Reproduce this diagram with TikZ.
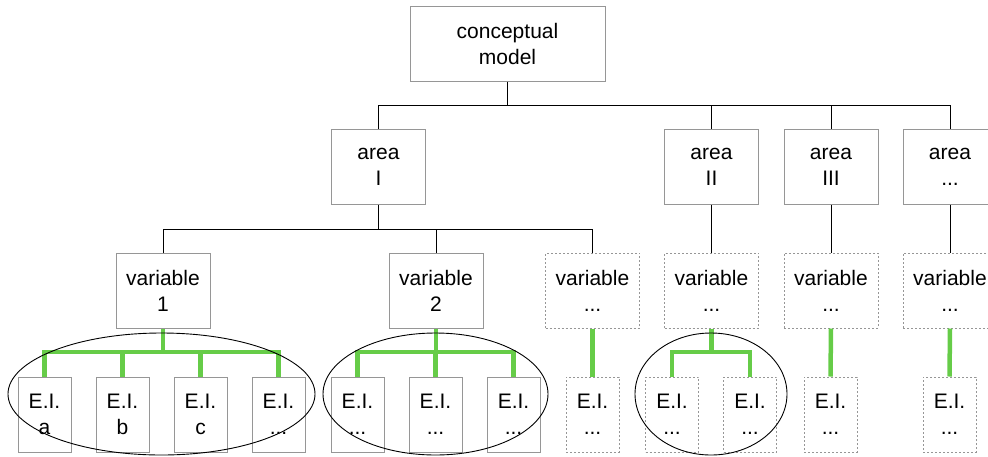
\documentclass[tikz,border=0pt]{standalone}
\usepackage{fontspec}
\setmainfont{Liberation Sans}
\usepackage{tikz}
\usepackage{xcolor}
\definecolor{boxgray}{RGB}{150,150,150}
\definecolor{eigreen}{RGB}{102,204,72}

\tikzset{
  box/.style={draw=boxgray, line width=1pt, align=center, inner sep=0pt,
    font=\fontsize{21}{26}\selectfont},
  dotbox/.style={box, dash pattern=on 2pt off 2pt},
  areabox/.style={minimum width=94pt, minimum height=75pt},
  eibox/.style={minimum width=53pt, minimum height=75pt},
  link/.style={draw=black, line width=0.9pt},
  greenlink/.style={draw=eigreen, line width=4.5pt},
}

\begin{document}
\begin{tikzpicture}[x=1pt, y=-1pt]
  \useasboundingbox (0,0) rectangle (988,456);
  \clip (0,0) rectangle (988,456);

  % Top
  \node[box, minimum width=195pt, minimum height=75pt] (cm) at (507.5,43.5) {conceptual\\model};

  % Areas
  \node[box, areabox] (a1) at (378.5,166.5) {area\\I};
  \node[box, areabox] (a2) at (711.5,166.5) {area\\II};
  \node[box, areabox] (a3) at (831,166.5) {area\\III};
  \node[box, areabox] (a4) at (950,166.5) {area\\...};

  % Variables
  \node[box, areabox] (v1) at (163,290.5) {variable\\1};
  \node[box, areabox] (v2) at (436,290.5) {variable\\2};
  \node[dotbox, areabox] (v3) at (592.5,290.5) {variable\\...};
  \node[dotbox, areabox] (v4) at (711.5,290.5) {variable\\...};
  \node[dotbox, areabox] (v5) at (831,290.5) {variable\\...};
  \node[dotbox, areabox] (v6) at (950,290.5) {variable\\...};

  % Elementary indicators
  \node[box, eibox] (e1) at (44.5,414.5) {E.I.\\a};
  \node[box, eibox] (e2) at (122.5,414.5) {E.I.\\b};
  \node[box, eibox] (e3) at (200.5,414.5) {E.I.\\c};
  \node[box, eibox] (e4) at (278.5,414.5) {E.I.\\...};
  \node[box, eibox] (e5) at (357.5,414.5) {E.I.\\...};
  \node[box, eibox] (e6) at (435.5,414.5) {E.I.\\...};
  \node[box, eibox] (e7) at (513.5,414.5) {E.I.\\...};
  \node[dotbox, eibox] (e8) at (592.5,414.5) {E.I.\\...};
  \node[dotbox, eibox] (e9) at (672,414.5) {E.I.\\...};
  \node[dotbox, eibox] (e10) at (750,414.5) {E.I.\\...};
  \node[dotbox, eibox] (e11) at (830.5,414.5) {E.I.\\...};
  \node[dotbox, eibox] (e12) at (949.5,414.5) {E.I.\\...};

  % Tree lines
  \coordinate (cmbus) at (507.5,105);
  \draw[link] (cm.south) -- (cmbus);
  \foreach \n in {a1,a2,a3,a4}
    \draw[link] (cmbus) -| (\n.north);

  \coordinate (a1bus) at (378.5,229);
  \draw[link] (a1.south) -- (a1bus);
  \foreach \n in {v1,v2,v3}
    \draw[link] (a1bus) -| (\n.north);
  \draw[link] (a2.south) -- (v4.north);
  \draw[link] (a3.south) -- (v5.north);
  \draw[link] (a4.south) -- (v6.north);

  % Green links
  \coordinate (g1) at (163,352);
  \coordinate (g2) at (436,352);
  \coordinate (g4) at (711.5,352);
  \draw[greenlink] (v1.south) -- (g1);
  \foreach \n in {e1,e2,e3,e4}
    \draw[greenlink] (g1) -| (\n.north);
  \draw[greenlink] (v2.south) -- (g2);
  \foreach \n in {e5,e6,e7}
    \draw[greenlink] (g2) -| (\n.north);
  \draw[greenlink] (v3.south) -- (e8.north);
  \draw[greenlink] (v4.south) -- (g4);
  \foreach \n in {e9,e10}
    \draw[greenlink] (g4) -| (\n.north);
  \draw[greenlink] (v5.south) -- (e11.north);
  \draw[greenlink] (v6.south) -- (e12.north);

  % Groups
  \draw[line width=0.9pt] (161.5,394) ellipse [x radius=153.5pt, y radius=61pt];
  \draw[line width=0.9pt] (435.5,394) ellipse [x radius=112.5pt, y radius=61pt];
  \draw[line width=0.9pt] (711,394) ellipse [x radius=76pt, y radius=61pt];
\end{tikzpicture}
\end{document}
